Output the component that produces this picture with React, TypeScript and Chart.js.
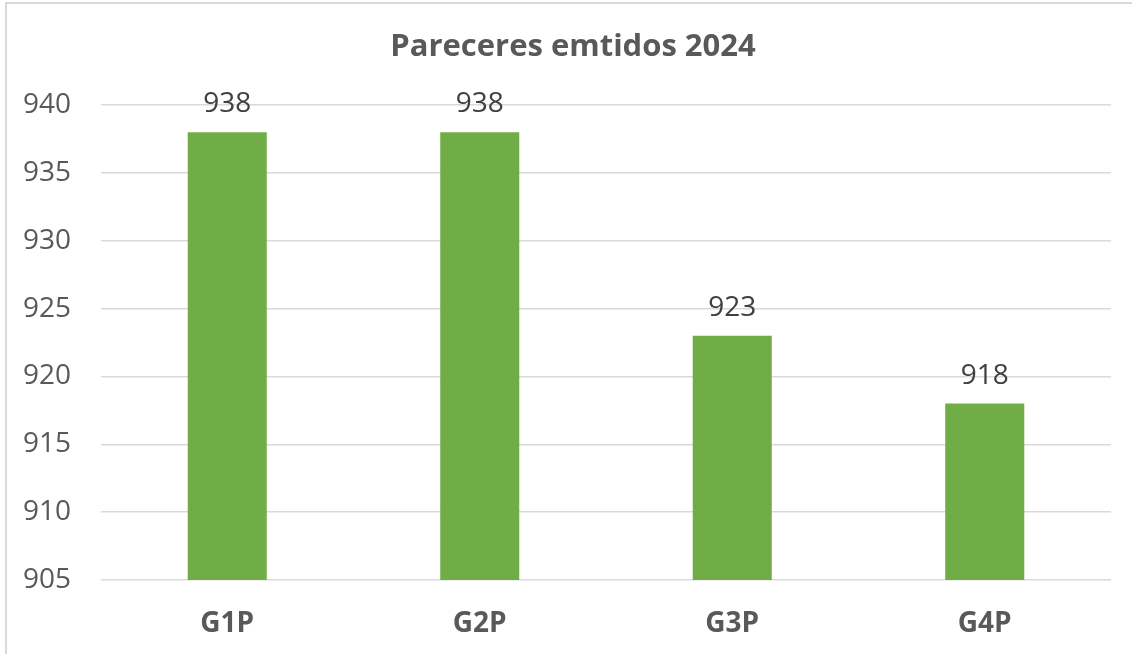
import React, { useEffect, useRef } from "react";
import { Chart, registerables } from "chart.js";

Chart.register(...registerables);

const categories = ["G1P", "G2P", "G3P", "G4P"];
const values = [938, 938, 923, 918];
const yMin = 905;
const yMax = 940;
const yStep = 5;
const chartTitle = "Pareceres emtidos 2024";

const FONT = "'Open Sans', 'Noto Sans', sans-serif";

const dataLabelPlugin = {
  id: "dataLabels",
  afterDatasetsDraw(chart: any) {
    const ctx = chart.ctx;
    const meta = chart.getDatasetMeta(0);
    ctx.save();
    ctx.font = `28px ${FONT}`;
    ctx.fillStyle = "#404040";
    ctx.textAlign = "center";
    ctx.textBaseline = "alphabetic";
    meta.data.forEach((el: any, i: number) => {
      const v = chart.data.datasets[0].data[i];
      ctx.fillText(String(v), el.x, el.y - 20);
    });
    ctx.restore();
  },
};

const titlePlugin = {
  id: "customTitle",
  afterDraw(chart: any) {
    const ctx = chart.ctx;
    ctx.save();
    ctx.font = `bold 31px ${FONT}`;
    ctx.fillStyle = "#595959";
    ctx.textAlign = "center";
    ctx.textBaseline = "alphabetic";
    ctx.fillText(chartTitle, 573, 56);
    ctx.restore();
  },
};

export default function App() {
  const ref = useRef<HTMLCanvasElement | null>(null);

  useEffect(() => {
    if (!ref.current) return;
    const chart = new Chart(ref.current, {
      type: "bar",
      data: {
        labels: categories,
        datasets: [
          {
            data: values,
            backgroundColor: "#70AD47",
            borderWidth: 0,
            categoryPercentage: 1,
            barPercentage: 0.313,
          },
        ],
      },
      options: {
        animation: false,
        responsive: false,
        layout: { padding: { left: 0, right: 21, top: 105, bottom: 0 } },
        plugins: {
          legend: { display: false },
          tooltip: { enabled: false },
          title: { display: false },
        },
        scales: {
          x: {
            grid: { display: false, drawTicks: false },
            border: { display: false },
            ticks: {
              color: "#595959",
              font: { family: FONT, size: 28, weight: "bold" },
              padding: 27,
            },
            afterFit: (scale: any) => {
              scale.height = 74;
            },
          },
          y: {
            min: yMin,
            max: yMax,
            grid: { color: "#d9d9d9", lineWidth: 1.5, drawTicks: false },
            border: { display: false },
            ticks: {
              stepSize: yStep,
              color: "#595959",
              font: { family: FONT, size: 28 },
              padding: 30,
            },
            afterFit: (scale: any) => {
              scale.width = 101;
            },
          },
        },
      },
      plugins: [dataLabelPlugin, titlePlugin],
    });
    return () => chart.destroy();
  }, []);

  return (
    <div
      style={{
        position: "fixed",
        left: 0,
        top: 0,
        width: 1132,
        height: 654,
        overflow: "hidden",
        background: "#ffffff",
      }}
    >
      <div
        style={{
          position: "absolute",
          left: 5,
          top: 2,
          width: 1200,
          height: 700,
          border: "2px solid #d9d9d9",
          boxSizing: "border-box",
        }}
      />
      <canvas
        ref={ref}
        width={1132}
        height={654}
        style={{ position: "absolute", left: 0, top: 0, width: 1132, height: 654 }}
      />
    </div>
  );
}
